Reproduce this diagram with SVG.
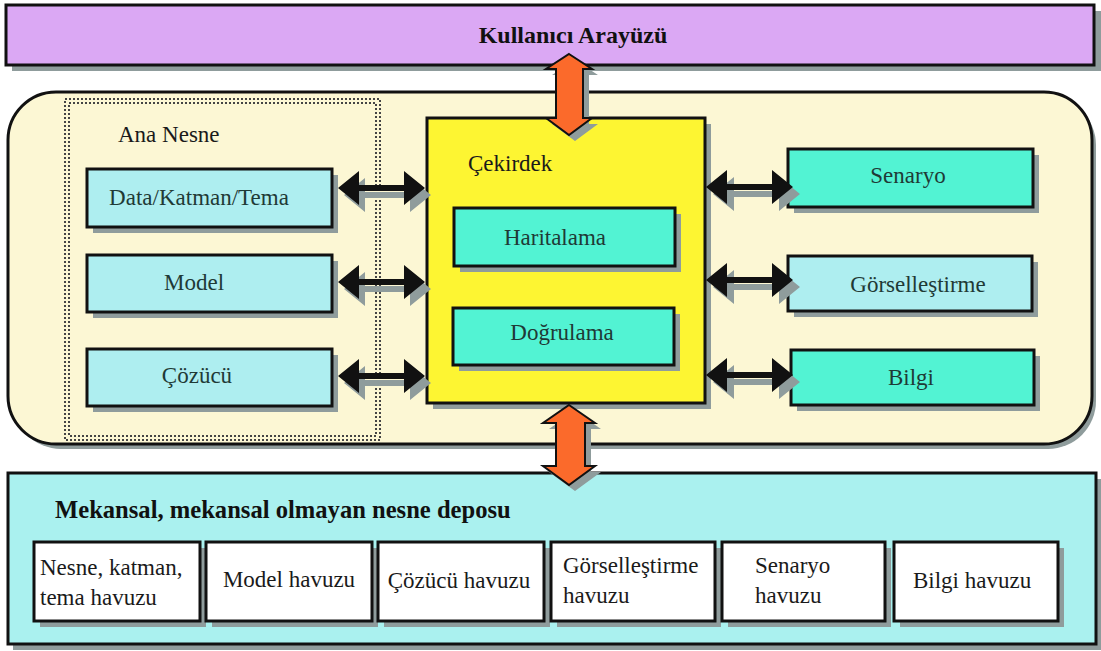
<svg xmlns="http://www.w3.org/2000/svg" width="1101" height="651" viewBox="0 0 1101 651" font-family="'Liberation Serif', 'DejaVu Serif', serif">
<defs>
<style>
text{font-family:'Liberation Serif','DejaVu Serif',serif}
.t{font-size:23px;fill:#1a1a1a}
.tc{font-size:23px;fill:#1f3a36;text-anchor:middle}
.b{font-weight:bold;fill:#111}
.sh{fill:#8f9c9c}
.box{stroke:#111;stroke-width:3}
.lc{fill:#aeeef0}
.tq{fill:#52f3d3}
.wh{fill:#ffffff}
.dot{fill:none;stroke:#444;stroke-width:2;stroke-dasharray:2,2}
.arr{fill:#111}
.arrs{fill:#8f9c9c}
.oa{fill:#fb6a2b;stroke:#111;stroke-width:2;stroke-linejoin:miter}
</style>
<path id="dbl" d="M0,0 L21,-17 L21,-3 L66,-3 L66,-17 L87,0 L66,17 L66,3 L21,3 L21,17 Z"/>
</defs>
<rect width="1101" height="651" fill="#ffffff"/>

<g id="ui">
<rect class="sh" x="12" y="11" width="1089" height="60"/>
<rect class="box" x="6" y="5" width="1088" height="60" fill="#dba8f4"/>
<text class="b" x="573" y="43" font-size="24" text-anchor="middle">Kullanıcı Arayüzü</text>
</g>

<g id="system">
<rect class="sh" x="13" y="97" width="1083" height="352" rx="48"/>
<rect class="box" x="8" y="92" width="1084" height="352" rx="48" fill="#fcf7d4"/>
</g>

<g id="ana-nesne">
<rect class="dot" x="65" y="99" width="315" height="341"/>
<rect class="dot" x="69" y="103" width="307" height="333"/>
<text class="t" x="118" y="142">Ana Nesne</text>
</g>

<g id="data">
<rect class="sh" x="93" y="175" width="245" height="58"/>
<rect class="box lc" x="87" y="169" width="245" height="58"/>
<text class="tc" x="199" y="205">Data/Katman/Tema</text>
</g>
<g id="model">
<rect class="sh" x="93" y="261" width="245" height="57"/>
<rect class="box lc" x="87" y="255" width="245" height="57"/>
<text class="tc" x="194" y="290">Model</text>
</g>
<g id="cozucu">
<rect class="sh" x="93" y="355" width="245" height="57"/>
<rect class="box lc" x="87" y="349" width="245" height="57"/>
<text class="tc" x="197" y="383">Çözücü</text>
</g>

<g id="cekirdek">
<rect class="sh" x="433" y="124" width="278" height="285"/>
<rect class="box" x="427" y="118" width="278" height="285" fill="#fdf532"/>
<text class="t" x="468" y="171">Çekirdek</text>
</g>
<g id="haritalama">
<rect class="sh" x="460" y="214" width="221" height="58"/>
<rect class="box tq" x="454" y="208" width="221" height="58"/>
<text class="tc" x="555" y="245">Haritalama</text>
</g>
<g id="dogrulama">
<rect class="sh" x="459" y="314" width="221" height="57"/>
<rect class="box tq" x="453" y="308" width="221" height="57"/>
<text class="tc" x="562" y="340">Doğrulama</text>
</g>

<g id="senaryo">
<rect class="sh" x="794" y="155" width="245" height="58"/>
<rect class="box tq" x="788" y="149" width="245" height="58"/>
<text class="tc" x="908" y="183">Senaryo</text>
</g>
<g id="gorsellestirme">
<rect class="sh" x="794" y="262" width="244" height="55"/>
<rect class="box lc" x="788" y="256" width="244" height="55"/>
<text class="tc" x="918" y="292">Görselleştirme</text>
</g>
<g id="bilgi">
<rect class="sh" x="797" y="356" width="243" height="55"/>
<rect class="box tq" x="791" y="350" width="243" height="55"/>
<text class="tc" x="911" y="385">Bilgi</text>
</g>

<g id="depo">
<rect class="sh" x="13" y="479" width="1088" height="171"/>
<rect class="box" x="8" y="473" width="1088" height="171" fill="#aaf1ef"/>
<text class="b" x="55" y="518" font-size="24.6">Mekansal, mekansal olmayan nesne deposu</text>
</g>
<g id="havuz1">
<rect class="sh" x="40" y="548" width="166" height="79"/>
<rect class="box wh" x="34" y="542" width="166" height="79"/>
<text class="t" x="40" y="575">Nesne, katman,</text>
<text class="t" x="40" y="605">tema havuzu</text>
</g>
<g id="havuz2">
<rect class="sh" x="212" y="548" width="166" height="79"/>
<rect class="box wh" x="206" y="542" width="166" height="79"/>
<text class="tc" x="289" y="587" style="fill:#1a1a1a">Model havuzu</text>
</g>
<g id="havuz3">
<rect class="sh" x="384" y="548" width="166" height="79"/>
<rect class="box wh" x="378" y="542" width="166" height="79"/>
<text class="tc" x="459" y="588" style="fill:#1a1a1a">Çözücü havuzu</text>
</g>
<g id="havuz4">
<rect class="sh" x="557" y="548" width="164" height="79"/>
<rect class="box wh" x="551" y="542" width="164" height="79"/>
<text class="t" x="563" y="573">Görselleştirme</text>
<text class="t" x="563" y="603">havuzu</text>
</g>
<g id="havuz5">
<rect class="sh" x="728" y="548" width="163" height="79"/>
<rect class="box wh" x="722" y="542" width="163" height="79"/>
<text class="t" x="755" y="573">Senaryo</text>
<text class="t" x="755" y="603">havuzu</text>
</g>
<g id="havuz6">
<rect class="sh" x="900" y="548" width="164" height="79"/>
<rect class="box wh" x="894" y="542" width="164" height="79"/>
<text class="t" x="913" y="588">Bilgi havuzu</text>
</g>

<g id="connectors">
<use href="#dbl" class="arrs" transform="translate(344,195)"/>
<use href="#dbl" class="arr" transform="translate(338,188)"/>
<use href="#dbl" class="arrs" transform="translate(344,289)"/>
<use href="#dbl" class="arr" transform="translate(338,282)"/>
<use href="#dbl" class="arrs" transform="translate(344,383)"/>
<use href="#dbl" class="arr" transform="translate(338,376)"/>
<use href="#dbl" class="arrs" transform="translate(713,194)"/>
<use href="#dbl" class="arr" transform="translate(706,187)"/>
<use href="#dbl" class="arrs" transform="translate(713,287)"/>
<use href="#dbl" class="arr" transform="translate(706,280)"/>
<use href="#dbl" class="arrs" transform="translate(713,382)"/>
<use href="#dbl" class="arr" transform="translate(706,375)"/>
<path class="sh" d="M575,60 L598,75 L589,75 L589,124 L598,124 L575,141 L552,124 L562,124 L562,75 L552,75 Z"/>
<path class="oa" d="M569,54 L592,69 L583,69 L583,118 L592,118 L569,135 L546,118 L556,118 L556,69 L546,69 Z"/>
<path class="sh" d="M575,411 L601,429 L591,429 L591,472 L601,472 L575,491 L549,472 L562,472 L562,429 L549,429 Z"/>
<path class="oa" d="M569,405 L595,423 L585,423 L585,466 L595,466 L569,485 L543,466 L556,466 L556,423 L543,423 Z"/>
</g>
</svg>
